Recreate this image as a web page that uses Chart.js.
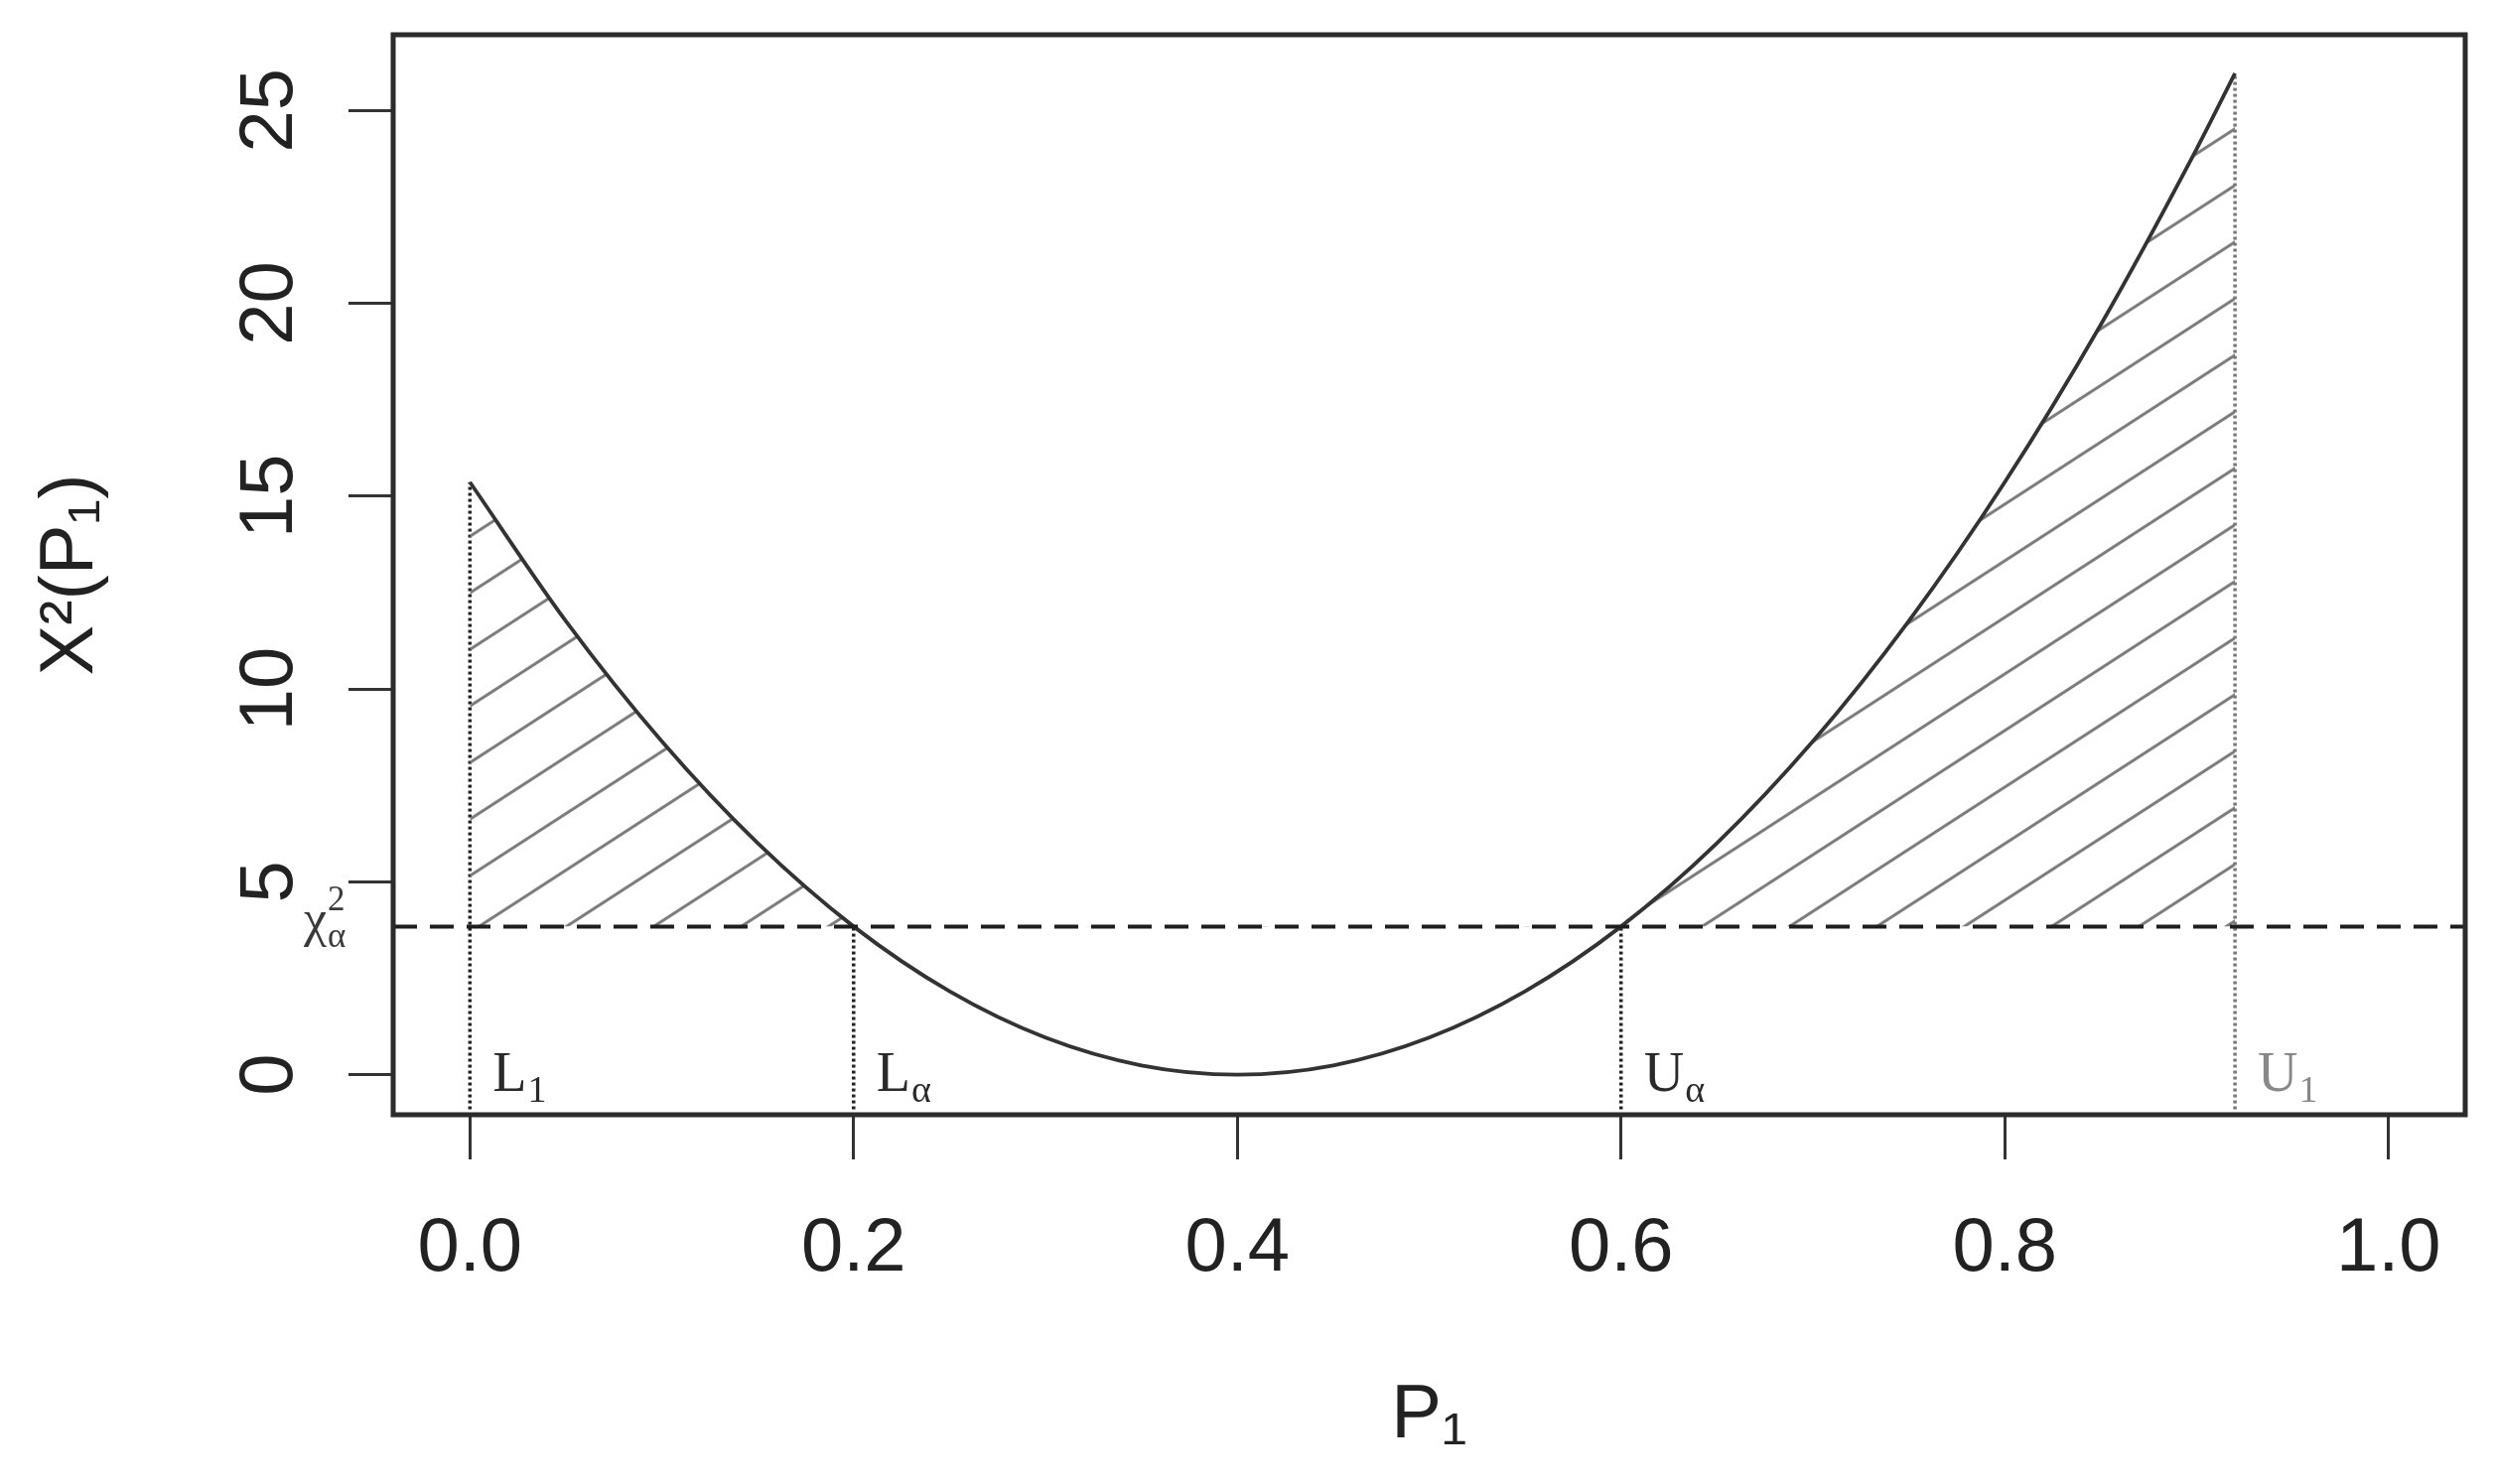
<!DOCTYPE html>
<html lang="en">
<head>
<meta charset="UTF-8">
<title>X²(P₁) curve</title>
<script src="https://cdn.jsdelivr.net/npm/chart.js"></script>
<style>
  * { margin:0; padding:0; box-sizing:border-box; }
  html,body { width:100%; height:100%; overflow:hidden; background:#fff; }
  #wrap { position:relative; width:2513px; height:1495px; }
</style>
</head>
<body>
<div id="wrap"><canvas id="chart" width="2513" height="1495"></canvas></div>
<script>
// curve
const p1  = [0, 0.05, 0.10, 0.15, 0.20, 0.25, 0.30, 0.35, 0.40, 0.45, 0.50, 0.55, 0.60, 0.65, 0.70, 0.75, 0.80, 0.85, 0.90, 0.92];
const chi = [15.36, 11.76, 8.64, 6.0, 3.84, 2.16, 0.96, 0.24, 0, 0.24, 0.96, 2.16, 3.84, 6.0, 8.64, 11.76, 15.36, 19.44, 24.0, 25.96];

const chiCrit = 3.84;   // dashed line

// L1, La, Ua, U1
const boundX   = [0, 0.2, 0.6, 0.92];
const boundTop = [15.36, 3.84, 3.84, 25.96];
const boundBottom = -0.9;
const boundMain = ['L', 'L', 'U', 'U'];
const boundSub  = ['1', 'α', 'α', '1'];

const xTicks = [0, 0.2, 0.4, 0.6, 0.8, 1.0];
const xTickLabels = ['0.0', '0.2', '0.4', '0.6', '0.8', '1.0'];
const yTicks = [0, 5, 10, 15, 20, 25];

const SANS = "'Liberation Sans', Arial, sans-serif";
const SERIF = "'Liberation Serif', 'DejaVu Serif', serif";
const boundColors = ['#222', '#222', '#222', '#777'];
const labelColors = ['#2a2a2a', '#2a2a2a', '#2a2a2a', '#888'];

// diagonal hatching like R's polygon(density=)
function hatch() {
  const w = 88, h = 57;
  const c = document.createElement('canvas');
  c.width = w; c.height = h;
  const g = c.getContext('2d');
  g.strokeStyle = '#7a7a7a';
  g.lineWidth = 3;
  for (let n = 0; n <= 2; n++) {
    g.beginPath();
    g.moveTo(n * w + w, -h);
    g.lineTo(-w, (n + 1) * h);
    g.stroke();
  }
  const pat = g.createPattern(c, 'repeat');
  if (pat.setTransform) pat.setTransform(new DOMMatrix().translate(-12.6, 0));
  return pat;
}

function subText(ctx, main, sub, sup, x, y, size, subSize, color) {
  ctx.fillStyle = color;
  ctx.textAlign = 'left';
  ctx.textBaseline = 'alphabetic';
  ctx.font = size + 'px ' + SERIF;
  ctx.fillText(main, x, y);
  const w = ctx.measureText(main).width;
  ctx.font = subSize + 'px ' + SERIF;
  if (sub) ctx.fillText(sub, x + w + 1, y + size * 0.2);
  if (sup) ctx.fillText(sup, x + w + 1, y - size * 0.5);
}

function noPad(s) {
  s.paddingTop = 0; s.paddingBottom = 0; s.paddingLeft = 0; s.paddingRight = 0;
}

const decor = {
  id: 'decor',
  afterDatasetsDraw(chart) {
    const {ctx, chartArea: a, scales: {x, y}} = chart;
    ctx.save();
    // dashed critical value line
    const yc = y.getPixelForValue(chiCrit);
    ctx.strokeStyle = '#1e1e1e';
    ctx.lineWidth = 4;
    ctx.setLineDash([24, 13]);
    ctx.beginPath();
    ctx.moveTo(a.left, yc);
    ctx.lineTo(a.right, yc);
    ctx.stroke();
    ctx.setLineDash([]);

    // box
    ctx.strokeStyle = '#2b2b2b';
    ctx.lineWidth = 5;
    ctx.strokeRect(a.left, a.top, a.right - a.left, a.bottom - a.top);

    // L1, La, Ua, U1 labels
    const y0 = y.getPixelForValue(0);
    boundX.forEach((bx, i) => {
      subText(ctx, boundMain[i], boundSub[i], null, x.getPixelForValue(bx) + 23, y0 + 16, 56, 38, labelColors[i]);
    });

    // chi-square label in the margin
    subText(ctx, 'χ', 'α', '2', a.left - 90, yc + 10, 52, 35, '#3a3a3a');
    ctx.restore();
  }
};

new Chart(document.getElementById('chart'), {
  type: 'line',
  data: {
    datasets: [
      {
        data: p1.map((v, i) => ({x: v, y: chi[i]})),
        borderColor: '#333',
        borderWidth: 3.8,
        pointRadius: 0,
        cubicInterpolationMode: 'monotone',
        fill: {target: {value: chiCrit}, above: hatch(), below: 'rgba(0,0,0,0)'}
      },
      ...boundX.map((bx, i) => ({
        data: [{x: bx, y: boundBottom}, {x: bx, y: boundTop[i]}],
        borderColor: boundColors[i],
        borderWidth: 3.5,
        borderDash: [3, 3],
        pointRadius: 0,
        fill: false
      }))
    ]
  },
  options: {
    responsive: false,
    animation: false,
    devicePixelRatio: 1,
    layout: {padding: {top: 35, right: 30, left: 0, bottom: 0}},
    plugins: {legend: {display: false}, tooltip: {enabled: false}},
    scales: {
      x: {
        type: 'linear',
        min: -0.04,
        max: 1.04,
        afterBuildTicks: s => { s.ticks = xTicks.map(v => ({value: v})); },
        afterFit: s => { s.height = 372; noPad(s); },
        ticks: {
          callback: (v, i) => xTickLabels[i],
          font: {family: SANS, size: 76},
          color: '#222',
          padding: 45,
          maxRotation: 0
        },
        grid: {drawOnChartArea: false, drawTicks: true, tickLength: 45, tickWidth: 3, tickColor: '#333'},
        border: {display: false},
        title: {display: true, text: 'P₁', color: '#222', font: {family: SANS, size: 76}, padding: {top: 0, bottom: 22}}
      },
      y: {
        type: 'linear',
        min: -1.04,
        max: 26.96,
        afterBuildTicks: s => { s.ticks = yTicks.map(v => ({value: v})); },
        afterFit: s => { s.width = 396; noPad(s); },
        ticks: {
          font: {family: SANS, size: 76},
          color: '#222',
          padding: 36,
          minRotation: 90,
          maxRotation: 90,
          crossAlign: 'center'
        },
        grid: {drawOnChartArea: false, drawTicks: true, tickLength: 45, tickWidth: 3, tickColor: '#333'},
        border: {display: false},
        title: {display: true, text: 'X²(P₁)', color: '#222', font: {family: SANS, size: 76}, padding: {top: 26, bottom: 0}}
      }
    }
  },
  plugins: [decor]
});
</script>
</body>
</html>
